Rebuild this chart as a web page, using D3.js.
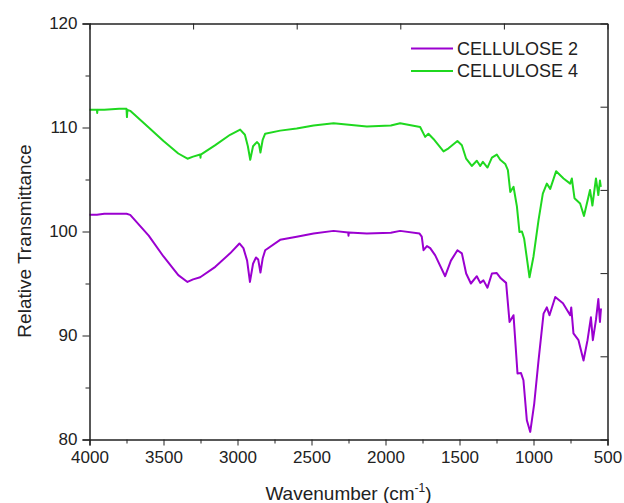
<!DOCTYPE html>
<html>
<head>
<meta charset="utf-8">
<script src="https://cdn.jsdelivr.net/npm/d3@7"></script>
<style>
  body { margin: 0; background: #fff; }
  svg { display: block; font-family: "Liberation Sans", Arial, sans-serif; }
  .axis path, .axis line { stroke: #222; }
  .axis text { fill: #222; font-size: 17px; }
  .line { fill: none; stroke-width: 2; stroke-linejoin: round; }
</style>
</head>
<body>
<script>
// FTIR spectra of two cellulose samples
var seriesNames = ["CELLULOSE 2", "CELLULOSE 4"];
var seriesColors = ["#9b00d0", "#1fd81f"];

var c2Wave = [4000, 3950, 3900, 3800, 3750, 3725, 3600, 3500, 3400, 3338, 3300, 3252, 3150, 3050, 2987, 2960, 2935, 2916, 2895, 2875, 2860, 2845, 2830, 2813, 2712, 2600, 2486, 2351, 2252, 2250, 2248, 2126, 1964, 1901, 1770, 1755, 1743, 1720, 1698, 1664, 1597, 1558, 1514, 1484, 1455, 1423, 1383, 1360, 1338, 1311, 1281, 1248, 1221, 1185, 1162, 1135, 1108, 1085, 1068, 1045, 1022, 995, 966, 932, 910, 892, 853, 801, 752, 745, 730, 696, 662, 635, 612, 599, 578, 562, 551, 544];
var c2Values = [101.6, 101.6, 101.7, 101.7, 101.7, 101.6, 99.6, 97.6, 95.8, 95.15, 95.4, 95.6, 96.6, 97.9, 98.85, 98.4, 97.2, 95.15, 96.9, 97.5, 97.3, 96.06, 97.4, 98.2, 99.2, 99.5, 99.8, 100.06, 99.9, 99.6, 99.9, 99.8, 99.87, 100.06, 99.8, 99.5, 98.2, 98.6, 98.4, 97.7, 95.7, 97.2, 98.2, 97.9, 95.96, 95.0, 95.7, 95.06, 95.3, 94.6, 95.96, 96.0, 95.5, 95.06, 91.3, 91.95, 86.35, 86.4, 85.7, 81.85, 80.73, 83.46, 87.6, 92.1, 92.7, 91.95, 93.7, 93.1, 91.95, 92.7, 90.2, 89.55, 87.6, 89.55, 91.75, 89.55, 91.5, 93.5, 91.3, 92.6];

var c4Wave = [4000, 3950, 3948, 3946, 3900, 3800, 3750, 3747, 3744, 3725, 3600, 3500, 3400, 3338, 3300, 3252, 3250, 3248, 3150, 3050, 2982, 2950, 2930, 2914, 2895, 2869, 2855, 2845, 2830, 2813, 2712, 2600, 2486, 2351, 2126, 1964, 1901, 1766, 1732, 1710, 1676, 1608, 1574, 1514, 1484, 1455, 1417, 1383, 1360, 1342, 1311, 1281, 1248, 1225, 1191, 1173, 1157, 1135, 1112, 1095, 1078, 1063, 1027, 1000, 966, 937, 910, 887, 847, 797, 752, 741, 723, 685, 659, 618, 602, 578, 562, 551, 545];
var c4Values = [111.7, 111.7, 111.4, 111.7, 111.7, 111.8, 111.8, 111.0, 111.7, 111.6, 110.0, 108.7, 107.5, 107.0, 107.2, 107.4, 107.1, 107.4, 108.3, 109.3, 109.8, 109.3, 108.2, 106.9, 108.2, 108.6, 108.4, 107.6, 108.8, 109.4, 109.7, 109.9, 110.2, 110.4, 110.1, 110.2, 110.4, 110.05, 109.1, 109.4, 108.9, 107.7, 108.0, 108.7, 108.3, 107.0, 106.3, 106.8, 106.3, 106.7, 106.15, 107.1, 107.4, 106.9, 106.5, 105.9, 103.8, 104.3, 102.4, 99.96, 100.0, 99.3, 95.6, 97.6, 101.1, 103.65, 104.6, 104.1, 105.8, 105.1, 104.6, 105.1, 103.2, 102.7, 101.5, 104.0, 102.5, 105.1, 103.5, 104.9, 104.3];

var xTicks = [4000, 3500, 3000, 2500, 2000, 1500, 1000, 500];
var xMinorTicks = [3750, 3250, 2750, 2250, 1750, 1250, 750];
var xTopTicks = [4000, 3300, 2600, 1900, 1200, 500];
var yTicks = [80, 90, 100, 110, 120];
var yMinorTicks = [85, 95, 105, 115];
var yRightTicks = [80, 88, 96, 104, 112, 120];

var width = 624, height = 503,
	margin = {top: 23.5, right: 16.5, bottom: 63.5, left: 89.5},
	w = width - margin.left - margin.right,
	h = height - margin.top - margin.bottom;

var svg = d3.select("body").append("svg")
	.attr("width", width)
	.attr("height", height);

var g = svg.append("g")
	.attr("transform", "translate(" + margin.left + "," + margin.top + ")");

var x = d3.scaleLinear().domain([4000, 500]).range([0, w]),
	y = d3.scaleLinear().domain([80, 120]).range([h, 0]);

var series = seriesNames.map(function(name, i) {
	var wave = i === 0 ? c2Wave : c4Wave,
		vals = i === 0 ? c2Values : c4Values;
	return {
		id: name,
		color: seriesColors[i],
		values: wave.map(function(d, j) { return {wn: d, t: vals[j]}; })
	};
});

var line = d3.line()
	.x(function(d) { return x(d.wn); })
	.y(function(d) { return y(d.t); });

// lines first, frame on top
g.selectAll(".line")
	.data(series)
	.enter().append("path")
		.attr("class", "line")
		.attr("d", function(d) { return line(d.values); })
		.style("stroke", function(d) { return d.color; });

// bottom axis
g.append("g")
	.attr("class", "axis")
	.attr("transform", "translate(0," + h + ")")
	.call(d3.axisBottom(x).tickValues(xTicks).tickSize(6).tickPadding(5).tickFormat(d3.format("d")))
	.call(function(s) { s.select(".domain").attr("stroke-width", 1.5); });

g.append("g")
	.attr("class", "axis")
	.attr("transform", "translate(0," + h + ")")
	.call(d3.axisBottom(x).tickValues(xMinorTicks).tickSize(4).tickFormat(""))
	.call(function(s) { s.select(".domain").remove(); });

// top axis, ticks inward
g.append("g")
	.attr("class", "axis")
	.call(d3.axisTop(x).tickValues(xTopTicks).tickSizeInner(-6).tickSizeOuter(0).tickFormat(""))
	.call(function(s) { s.select(".domain").attr("stroke-width", 1.5); });

// left axis
g.append("g")
	.attr("class", "axis")
	.call(d3.axisLeft(y).tickValues(yTicks).tickSize(7).tickPadding(5))
	.call(function(s) { s.select(".domain").attr("stroke-width", 1.5); });

g.append("g")
	.attr("class", "axis")
	.call(d3.axisLeft(y).tickValues(yMinorTicks).tickSize(4).tickFormat(""))
	.call(function(s) { s.select(".domain").remove(); });

// right axis, ticks inward
g.append("g")
	.attr("class", "axis")
	.attr("transform", "translate(" + w + ",0)")
	.call(d3.axisRight(y).tickValues(yRightTicks).tickSizeInner(-7).tickSizeOuter(0).tickFormat(""))
	.call(function(s) { s.select(".domain").attr("stroke-width", 1.5); });

// axis titles
svg.append("text")
	.attr("transform", "translate(31," + 241 + ") rotate(-90)")
	.attr("text-anchor", "middle")
	.style("font-size", "19px")
	.attr("fill", "#222")
	.text("Relative Transmittance");

var xt = svg.append("text")
	.attr("x", margin.left + w / 2)
	.attr("y", 500)
	.attr("text-anchor", "middle")
	.style("font-size", "19px")
	.attr("fill", "#222");
xt.append("tspan").text("Wavenumber (cm");
xt.append("tspan").attr("dy", -8).style("font-size", "12px").text("-1");
xt.append("tspan").attr("dy", 8).text(")");

// legend
var legend = svg.selectAll(".legend")
	.data(series)
	.enter().append("g")
		.attr("class", "legend")
		.attr("transform", function(d, i) { return "translate(411," + (48.5 + i * 22.5) + ")"; });

legend.append("line")
	.attr("x1", 0).attr("x2", 42)
	.attr("stroke-width", 2)
	.attr("stroke", function(d) { return d.color; });

legend.append("text")
	.attr("x", 46)
	.attr("dy", "0.35em")
	.style("font-size", "18px")
	.attr("fill", "#222")
	.text(function(d) { return d.id; });
</script>
</body>
</html>
